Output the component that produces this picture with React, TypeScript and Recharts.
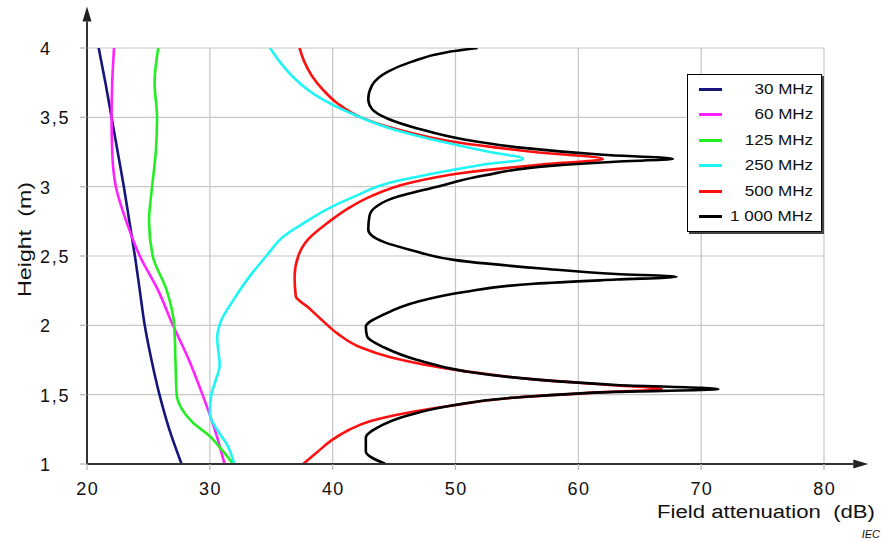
import React from 'react';
import { LineChart, Line, XAxis, YAxis, CartesianGrid, Legend, ReferenceLine, Label } from 'recharts';

// ---- axis ticks ----
const X_TICKS = [20, 30, 40, 50, 60, 70, 80];
const Y_TICKS = [1, 1.5, 2, 2.5, 3, 3.5, 4];

// ---- series names / colours ----
const SERIES_NAMES = ['30 MHz', '60 MHz', '125 MHz', '250 MHz', '500 MHz', '1 000 MHz'];
const SERIES_COLORS = ['#15157c', '#ff22ff', '#22ee22', '#1ff5f5', '#ff1010', '#000000'];

// ---- data: h = height (m), v = field attenuation (dB) ----
const MHZ_30 = [
  { h: 4, v: 20.95 }, { h: 3.75, v: 21.5 }, { h: 3.5, v: 22.0 }, { h: 3.25, v: 22.5 },
  { h: 3, v: 23.0 }, { h: 2.75, v: 23.45 }, { h: 2.5, v: 23.9 }, { h: 2.25, v: 24.3 },
  { h: 2, v: 24.7 }, { h: 1.75, v: 25.25 }, { h: 1.5, v: 25.9 }, { h: 1.25, v: 26.7 },
  { h: 1, v: 27.7 },
];

const MHZ_60 = [
  { h: 4, v: 22.2 }, { h: 3.75, v: 22.05 }, { h: 3.5, v: 22.0 }, { h: 3.25, v: 22.05 },
  { h: 3, v: 22.35 }, { h: 2.75, v: 23.2 }, { h: 2.5, v: 24.3 }, { h: 2.25, v: 25.8 },
  { h: 2, v: 27.0 }, { h: 1.75, v: 28.3 }, { h: 1.5, v: 29.4 }, { h: 1.25, v: 30.4 },
  { h: 1, v: 31.2 },
];

const MHZ_125 = [
  { h: 4, v: 25.8 }, { h: 3.75, v: 25.5 }, { h: 3.5, v: 25.7 }, { h: 3.25, v: 25.6 },
  { h: 3, v: 25.3 }, { h: 2.75, v: 25.05 }, { h: 2.5, v: 25.35 }, { h: 2.25, v: 26.5 },
  { h: 2, v: 27.1 }, { h: 1.75, v: 27.2 }, { h: 1.5, v: 27.3 }, { h: 1.4, v: 27.7 },
  { h: 1.3, v: 28.6 }, { h: 1.2, v: 30.0 }, { h: 1.1, v: 31.0 }, { h: 1, v: 31.9 },
];

const MHZ_250 = [
  { h: 4, v: 34.9 }, { h: 3.9, v: 35.7 }, { h: 3.78, v: 36.9 }, { h: 3.66, v: 38.6 },
  { h: 3.54, v: 41.2 }, { h: 3.42, v: 44.7 }, { h: 3.32, v: 49.1 }, { h: 3.25, v: 52.8 },
  { h: 3.2, v: 55.5 }, { h: 3.16, v: 52.3 }, { h: 3.1, v: 48.5 }, { h: 3.03, v: 44.7 },
  { h: 2.93, v: 41.8 }, { h: 2.84, v: 39.6 }, { h: 2.74, v: 37.7 }, { h: 2.64, v: 36.0 },
  { h: 2.5, v: 34.6 }, { h: 2.36, v: 33.3 }, { h: 2.18, v: 31.9 }, { h: 2.03, v: 30.9 },
  { h: 1.91, v: 30.6 }, { h: 1.71, v: 30.8 }, { h: 1.61, v: 30.5 }, { h: 1.49, v: 30.1 },
  { h: 1.36, v: 30.0 }, { h: 1.26, v: 30.5 }, { h: 1.14, v: 31.4 }, { h: 1, v: 32.0 },
];

const MHZ_500 = [
  { h: 4, v: 37.3 }, { h: 3.9, v: 37.7 }, { h: 3.8, v: 38.3 }, { h: 3.7, v: 39.2 },
  { h: 3.6, v: 40.4 }, { h: 3.5, v: 42.3 }, { h: 3.42, v: 45.0 }, { h: 3.32, v: 50.1 },
  { h: 3.25, v: 56.4 }, { h: 3.2, v: 62.0 }, { h: 3.16, v: 57.0 }, { h: 3.1, v: 50.7 },
  { h: 3.03, v: 46.4 }, { h: 2.93, v: 43.1 }, { h: 2.84, v: 41.2 }, { h: 2.74, v: 39.6 },
  { h: 2.62, v: 38.0 }, { h: 2.5, v: 37.2 }, { h: 2.35, v: 36.9 }, { h: 2.21, v: 37.0 },
  { h: 2.13, v: 38.0 }, { h: 2.04, v: 39.1 }, { h: 1.94, v: 40.4 }, { h: 1.84, v: 42.3 },
  { h: 1.77, v: 44.7 }, { h: 1.67, v: 50.7 }, { h: 1.61, v: 56.4 }, { h: 1.57, v: 62.5 },
  { h: 1.54, v: 66.8 }, { h: 1.52, v: 62.5 }, { h: 1.48, v: 55.0 }, { h: 1.42, v: 49.6 },
  { h: 1.37, v: 46.1 }, { h: 1.31, v: 43.1 }, { h: 1.24, v: 41.2 }, { h: 1.17, v: 39.9 },
  { h: 1.09, v: 38.8 }, { h: 1, v: 37.6 },
];

const MHZ_1000 = [
  { h: 4, v: 51.8 }, { h: 3.97, v: 49.3 }, { h: 3.9, v: 46.4 }, { h: 3.83, v: 44.5 },
  { h: 3.73, v: 43.2 }, { h: 3.63, v: 42.9 }, { h: 3.56, v: 43.2 }, { h: 3.49, v: 44.5 },
  { h: 3.42, v: 46.9 }, { h: 3.34, v: 50.7 }, { h: 3.28, v: 55.5 }, { h: 3.23, v: 62.0 },
  { h: 3.2, v: 67.7 }, { h: 3.18, v: 63.0 }, { h: 3.15, v: 57.7 }, { h: 3.08, v: 52.3 },
  { h: 3.0, v: 48.5 }, { h: 2.91, v: 44.7 }, { h: 2.79, v: 43.0 }, { h: 2.69, v: 42.9 },
  { h: 2.6, v: 44.2 }, { h: 2.54, v: 46.5 }, { h: 2.47, v: 50.0 }, { h: 2.41, v: 57.0 },
  { h: 2.37, v: 63.1 }, { h: 2.35, v: 68.0 }, { h: 2.33, v: 63.1 }, { h: 2.3, v: 56.4 },
  { h: 2.24, v: 50.7 }, { h: 2.17, v: 46.9 }, { h: 2.08, v: 44.2 }, { h: 1.99, v: 42.7 },
  { h: 1.92, v: 42.8 }, { h: 1.84, v: 44.2 }, { h: 1.75, v: 46.9 }, { h: 1.67, v: 50.7 },
  { h: 1.61, v: 56.4 }, { h: 1.57, v: 63.1 }, { h: 1.54, v: 71.4 }, { h: 1.52, v: 63.1 },
  { h: 1.48, v: 55.0 }, { h: 1.42, v: 49.6 }, { h: 1.35, v: 46.1 }, { h: 1.26, v: 43.6 },
  { h: 1.19, v: 42.7 }, { h: 1.09, v: 42.7 }, { h: 1, v: 44.3 },
];

// axis arrow ends (data units, for the decorative arrowed axes)
const X_ARROW_END = 83.6;
const Y_ARROW_END = 4.3;

const FONT = '"Liberation Sans", Arial, sans-serif';
const TEXT_COLOR = '#111';

const fmt = (v: number) => String(v).replace('.', ',');

const YTick = (props: any) => {
  const { y, payload } = props;
  return (
    <text x={40} y={y + 7} fontSize={18} fill={TEXT_COLOR} textAnchor="start" fontFamily={FONT} letterSpacing={1.8}>
      {fmt(payload.value)}
    </text>
  );
};

const XTick = (props: any) => {
  const { x, y, payload } = props;
  return (
    <text x={x + 0.7} y={y + 13} fontSize={18} fill={TEXT_COLOR} textAnchor="middle" fontFamily={FONT} letterSpacing={1.4}>
      {payload.value}
    </text>
  );
};

const Arrow = (props: any) => {
  const { x1, y1, x2, y2 } = props;
  const dx = x2 - x1;
  const dy = y2 - y1;
  const len = Math.sqrt(dx * dx + dy * dy) || 1;
  const ux = dx / len;
  const uy = dy / len;
  const headLen = 15;
  const half = 4.5;
  const bx = x2 - ux * headLen;
  const by = y2 - uy * headLen;
  const px = -uy * half;
  const py = ux * half;
  return (
    <g>
      <line x1={x1} y1={y1} x2={bx} y2={by} stroke="#333" strokeWidth={2} />
      <polygon points={`${x2},${y2} ${bx + px},${by + py} ${bx - px},${by - py}`} fill="#222" />
    </g>
  );
};

const LegendBox = (props: any) => {
  const items = [...(props.payload || [])].sort(
    (a: any, b: any) => SERIES_NAMES.indexOf(a.value) - SERIES_NAMES.indexOf(b.value)
  );
  return (
    <div
      style={{
        width: 135,
        height: 158,
        boxSizing: 'border-box',
        border: '1px solid #000',
        boxShadow: '2px 2px 0 #444',
        background: '#fff',
        paddingTop: 1.5,
        fontFamily: FONT,
      }}
    >
      {items.map((it: any) => (
        <div key={it.value} style={{ height: 25.5, position: 'relative' }}>
          <span
            style={{ position: 'absolute', left: 11, top: 11.25, width: 23, height: 3, background: it.color }}
          />
          <span
            style={{
              position: 'absolute',
              right: 8,
              top: 0,
              lineHeight: '25.5px',
              fontSize: 14,
              color: TEXT_COLOR,
              whiteSpace: 'pre',
              transform: 'scaleX(1.22)',
              transformOrigin: 'right center',
            }}
          >
            {it.value}
          </span>
        </div>
      ))}
    </div>
  );
};

const XTitle = () => (
  <g fontFamily={FONT}>
    <text
      x={657}
      y={518}
      fontSize={18}
      fill={TEXT_COLOR}
      textAnchor="start"
      textLength={218}
      lengthAdjust="spacingAndGlyphs"
      style={{ whiteSpace: 'pre' }}
    >
      {'Field attenuation  (dB)'}
    </text>
    <text x={880} y={538} fontSize={11} fill={TEXT_COLOR} textAnchor="end" fontStyle="italic">
      IEC
    </text>
  </g>
);

const YTitle = () => (
  <text
    x={31}
    y={297}
    transform="rotate(-90, 31, 297)"
    fontSize={19}
    fill={TEXT_COLOR}
    textAnchor="start"
    fontFamily={FONT}
    textLength={115}
    lengthAdjust="spacingAndGlyphs"
    style={{ whiteSpace: 'pre' }}
  >
    {'Height  (m)'}
  </text>
);

const SERIES_DATA = [MHZ_30, MHZ_60, MHZ_125, MHZ_250, MHZ_500, MHZ_1000];
// drawing order (cyan on top)
const DRAW_ORDER = [0, 1, 2, 4, 5, 3];

export default function App() {
  return (
    <div
      style={{
        position: 'absolute',
        left: 0,
        top: 0,
        width: 881,
        height: 541,
        background: '#fff',
        fontFamily: FONT,
      }}
    >
      <LineChart
        width={881}
        height={541}
        layout="vertical"
        margin={{ top: 48, right: 57, bottom: 0, left: 0 }}
      >
        <CartesianGrid stroke="#c6c6c6" strokeWidth={1.2} />
        <XAxis
          type="number"
          domain={[20, 80]}
          ticks={X_TICKS}
          allowDataOverflow
          height={77}
          axisLine={false}
          tickLine={{ stroke: '#b5b5b5', strokeWidth: 1.2 }}
          tickSize={6}
          tickMargin={12}
          tick={<XTick />}
        >
          <Label content={<XTitle />} />
        </XAxis>
        <YAxis
          type="number"
          dataKey="h"
          domain={[1, 4]}
          ticks={Y_TICKS}
          reversed
          allowDataOverflow
          width={87}
          axisLine={false}
          tickLine={{ stroke: '#b5b5b5', strokeWidth: 1.2 }}
          tickSize={7}
          tick={<YTick />}
        >
          <Label content={<YTitle />} />
        </YAxis>
        <Legend
          layout="vertical"
          align="center"
          verticalAlign="middle"
          content={<LegendBox />}
          wrapperStyle={{ position: 'absolute', left: 687, top: 74, width: 135, height: 158, margin: 0, padding: 0 }}
        />
        {DRAW_ORDER.map((i) => (
          <Line
            key={SERIES_NAMES[i]}
            name={SERIES_NAMES[i]}
            data={SERIES_DATA[i]}
            dataKey="v"
            type="monotone"
            stroke={SERIES_COLORS[i]}
            strokeWidth={2.6}
            dot={false}
            activeDot={false}
            isAnimationActive={false}
          />
        ))}
        <ReferenceLine
          segment={[{ x: 20, y: 1 }, { x: 20, y: Y_ARROW_END }]}
          ifOverflow="visible"
          shape={(p: any) => <Arrow {...p} />}
        />
        <ReferenceLine
          segment={[{ x: 20, y: 1 }, { x: X_ARROW_END, y: 1 }]}
          ifOverflow="visible"
          shape={(p: any) => <Arrow {...p} />}
        />
      </LineChart>
    </div>
  );
}
